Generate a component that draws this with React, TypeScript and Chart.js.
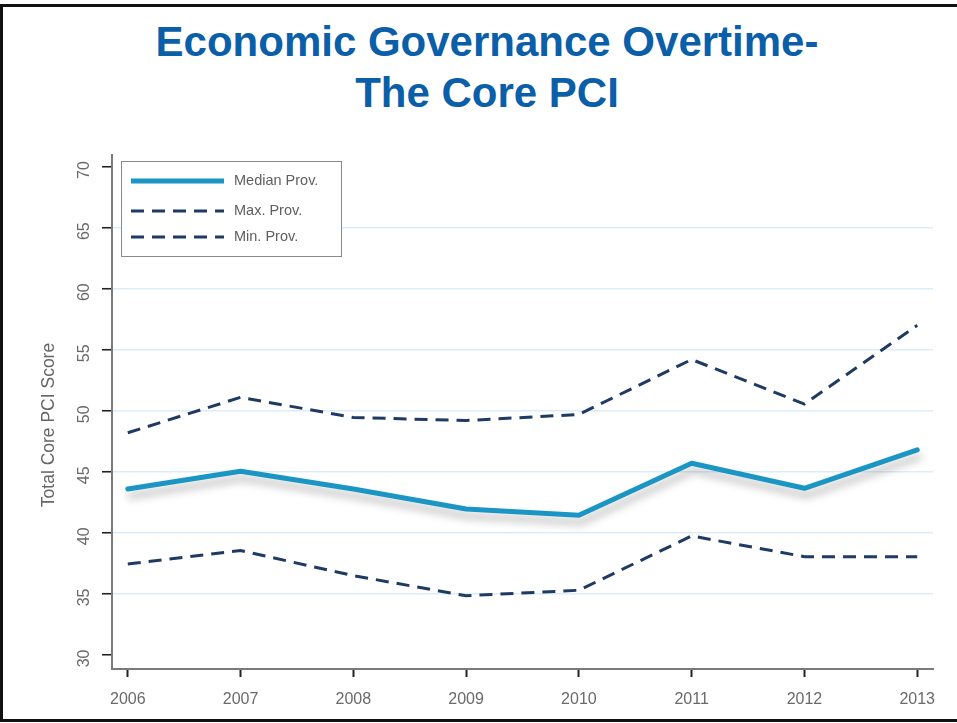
import React, { useEffect, useRef } from "react";
import { Chart, registerables } from "chart.js";

Chart.register(...registerables);

const years = [2006, 2007, 2008, 2009, 2010, 2011, 2012, 2013];
const medianProv = [43.6, 45.05, 43.6, 41.95, 41.45, 45.7, 43.65, 46.8];
const maxProv = [48.2, 51.1, 49.45, 49.2, 49.7, 54.2, 50.55, 57.0];
const minProv = [37.45, 38.55, 36.5, 34.85, 35.3, 39.75, 38.05, 38.05];
const yTicks = [30, 35, 40, 45, 50, 55, 60, 65, 70];
const seriesLabels = ["Median Prov.", "Max. Prov.", "Min. Prov."];
const titleLines = ["Economic Governance Overtime-", "The Core PCI"];
const yAxisTitle = "Total Core PCI Score";

const FONT = "'Liberation Sans', Arial, Helvetica, sans-serif";

const shadowPlugin = {
  id: "medianShadow",
  beforeDatasetDraw(chart: any, args: any) {
    if (args.index === 0) {
      const ctx = chart.ctx;
      ctx.save();
      ctx.shadowColor = "rgba(0,0,0,0.28)";
      ctx.shadowBlur = 8;
      ctx.shadowOffsetX = 2;
      ctx.shadowOffsetY = 7;
    }
  },
  afterDatasetDraw(chart: any, args: any) {
    if (args.index === 0) chart.ctx.restore();
  },
};

const textPlugin = {
  id: "customText",
  afterDraw(chart: any) {
    const ctx = chart.ctx;
    const ys = chart.scales.y;
    ctx.save();
    // y tick labels (rotated)
    ctx.fillStyle = "#6a6a6a";
    ctx.font = `16px ${FONT}`;
    ctx.textAlign = "center";
    ctx.textBaseline = "middle";
    yTicks.forEach((v) => {
      const py = ys.getPixelForValue(v) + 3.5;
      ctx.save();
      ctx.translate(85, py);
      ctx.rotate(-Math.PI / 2);
      ctx.fillText(String(v), 0, 0);
      ctx.restore();
    });
    // y axis title
    ctx.save();
    ctx.font = `17.5px ${FONT}`;
    ctx.fillStyle = "#666";
    ctx.translate(49, 425);
    ctx.rotate(-Math.PI / 2);
    ctx.fillText(yAxisTitle, 0, 0);
    ctx.restore();

    // legend
    const bx = 121, by = 161, bw = 220, bh = 95;
    ctx.fillStyle = "#ffffff";
    ctx.fillRect(bx, by, bw, bh);
    ctx.strokeStyle = "#8a8a8a";
    ctx.lineWidth = 1;
    ctx.strokeRect(bx + 0.5, by + 0.5, bw, bh);
    const rowsY = [181, 211, 237];
    chart.data.datasets.forEach((ds: any, i: number) => {
      const y = rowsY[i];
      ctx.save();
      ctx.strokeStyle = ds.borderColor;
      ctx.lineWidth = ds.borderWidth;
      ctx.setLineDash(ds.borderDash || []);
      ctx.lineCap = "butt";
      ctx.beginPath();
      ctx.moveTo(131, y);
      ctx.lineTo(224, y);
      ctx.stroke();
      ctx.restore();
      ctx.fillStyle = "#5f5f5f";
      ctx.font = `14.5px ${FONT}`;
      ctx.textAlign = "left";
      ctx.textBaseline = "middle";
      ctx.fillText(ds.label, 234, y);
    });
    ctx.restore();
  },
};

export default function App() {
  const ref = useRef<HTMLCanvasElement>(null);
  useEffect(() => {
    if (!ref.current) return;
    const toXY = (arr: number[]) => arr.map((v, i) => ({ x: years[i], y: v }));
    const chart = new Chart(ref.current, {
      type: "line",
      data: {
        datasets: [
          {
            label: seriesLabels[0],
            data: toXY(medianProv),
            borderColor: "#1b95c3",
            borderWidth: 5,
            pointRadius: 0,
            tension: 0,
            borderJoinStyle: "round",
            borderCapStyle: "round",
          },
          {
            label: seriesLabels[1],
            data: toXY(maxProv),
            borderColor: "#1f3a63",
            borderWidth: 3,
            borderDash: [13, 8],
            pointRadius: 0,
            tension: 0,
          },
          {
            label: seriesLabels[2],
            data: toXY(minProv),
            borderColor: "#1f3a63",
            borderWidth: 3,
            borderDash: [13, 8],
            pointRadius: 0,
            tension: 0,
          },
        ],
      },
      options: {
        responsive: false,
        animation: false,
        devicePixelRatio: 1,
        layout: { padding: { top: 155, right: 24, left: 0, bottom: 0 } },
        plugins: {
          legend: { display: false },
          title: { display: false },
          tooltip: { enabled: false },
        },
        scales: {
          x: {
            type: "linear",
            min: 2005.86,
            max: 2013.14,
            afterBuildTicks: (scale: any) => {
              scale.ticks = years.map((v) => ({ value: v }));
            },
            afterFit: (scale: any) => {
              scale.height = 54;
            },
            grid: {
              drawOnChartArea: false,
              drawTicks: true,
              tickLength: 8,
              tickColor: "#222",
              tickWidth: 2,
            },
            border: { color: "#7a7a7a", width: 2 },
            ticks: {
              color: "#6a6a6a",
              font: { family: FONT, size: 16 },
              padding: 13,
              maxRotation: 0,
              autoSkip: false,
              callback: (v: any) => String(v),
            },
          },
          y: {
            type: "linear",
            min: 28.85,
            max: 70.95,
            afterBuildTicks: (scale: any) => {
              scale.ticks = yTicks.map((v) => ({ value: v }));
            },
            afterFit: (scale: any) => {
              scale.width = 112;
            },
            grid: {
              drawTicks: true,
              tickLength: 10,
              tickColor: "#222",
              tickWidth: 1.6,
              lineWidth: 1.5,
              color: (c: any) =>
                c.tick && (c.tick.value === 30 || c.tick.value === 70)
                  ? "rgba(0,0,0,0)"
                  : "#dcedf9",
            },
            border: { color: "#7a7a7a", width: 2 },
            ticks: { display: false },
          },
        },
      },
      plugins: [shadowPlugin, textPlugin],
    } as any);
    return () => chart.destroy();
  }, []);

  return (
    <div
      style={{
        position: "fixed",
        left: 0,
        top: 0,
        width: 957,
        height: 723,
        background: "#fff",
        overflow: "hidden",
      }}
    >
      <div
        style={{
          position: "absolute",
          left: 0,
          top: 4,
          width: 990,
          height: 718,
          boxSizing: "border-box",
          border: "3px solid #111",
        }}
      />
      <div
        style={{
          position: "absolute",
          left: 0,
          top: 16,
          width: 974,
          textAlign: "center",
          fontFamily: FONT,
          fontWeight: "bold",
          fontSize: 42,
          lineHeight: "51px",
          color: "#0b5ea8",
        }}
      >
        {titleLines.map((t, i) => (
          <div key={i}>{t}</div>
        ))}
      </div>
      <canvas
        ref={ref}
        width={957}
        height={723}
        style={{ position: "absolute", left: 0, top: 0, width: 957, height: 723 }}
      />
    </div>
  );
}
